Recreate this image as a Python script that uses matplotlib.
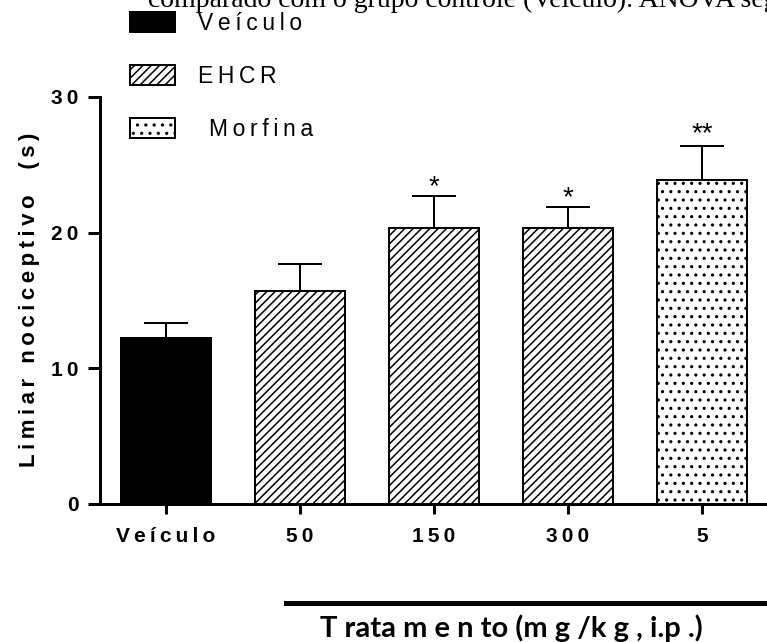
#!/usr/bin/env python3

import matplotlib
matplotlib.use('Agg')
import matplotlib.pyplot as plt
from matplotlib.lines import Line2D

plt.rcParams['font.family'] = ['Liberation Sans', 'DejaVu Sans']
plt.rcParams['hatch.linewidth'] = 1.1

groups = ['Veículo', '50', '150', '300', '5']
means = [12.2, 15.7, 20.3, 20.3, 23.9]
errors = [1.1, 2.0, 2.4, 1.6, 2.5]
stars = ['', '', '*', '*', '**']
hatches = ['', '////', '////', '////', '..']
faces = ['black', 'white', 'white', 'white', 'white']
legend_labels = ['Veículo', 'EHCR', ' Morfina']
legend_bars = [0, 1, 4]
y_ticks = [0, 10, 20, 30]

caption = 'comparado com o grupo controle (Veículo). ANOVA seg'
x_title = 'T rata m e n to (m g /k g , i.p .)'
y_title = 'Limiar nociceptivo  (s)'

PX = 72 / 100  # points per pixel at dpi 100
THIN = '\u2009'


def spaced(text, sep=THIN):
    return sep.join(text)


fig = plt.figure(figsize=(7.67, 6.42), dpi=100)
ax = fig.add_axes([100 / 767, (642 - 503.5) / 642, 667 / 767, (503.5 - 97) / 642])

x = list(range(len(groups)))
bars = ax.bar(x, means, width=0.67, color=faces, edgecolor='black',
              linewidth=2 * PX, zorder=2)
for b, h in zip(bars, hatches):
    if h:
        b.set_hatch(h)

ax.errorbar(x, means, yerr=[[0] * len(errors), errors], fmt='none',
            ecolor='black', elinewidth=2 * PX, capsize=22 * PX,
            capthick=2 * PX, zorder=1)

for xi, m, e, s in zip(x, means, errors, stars):
    if s:
        ax.annotate(s, (xi, m + e), xytext=(0, 3 if len(s) > 1 else 1),
                    textcoords='offset points',
                    ha='center', va='baseline', fontsize=20)

ax.set_xlim(-66 / 134, 601 / 134)
ax.set_ylim(0, 30)
ax.set_yticks(y_ticks)
ax.set_yticklabels([spaced(str(t)) for t in y_ticks],
                   fontweight='bold', fontsize=15)
ax.set_xticks(x)
ax.set_xticklabels([spaced(g) for g in groups], fontweight='bold', fontsize=15)

for side in ['top', 'right']:
    ax.spines[side].set_visible(False)
for side in ['left', 'bottom']:
    ax.spines[side].set_linewidth(3 * PX)
ax.tick_params(axis='y', length=12 * PX, width=3 * PX, pad=7)
ax.tick_params(axis='x', length=10 * PX, width=3 * PX, pad=10)

ax.set_ylabel(spaced(y_title), fontweight='bold', fontsize=16, labelpad=8)

fig.legend([bars[i] for i in legend_bars],
           [spaced(l) for l in legend_labels],
           loc='upper left', bbox_to_anchor=(130 / 767, 1 - 12 / 642),
           frameon=False, borderpad=0, borderaxespad=0, fontsize=16.5,
           handlelength=1.95, handleheight=0.95, handletextpad=1.0,
           labelspacing=1.3)

fig.add_artist(Line2D([286 / 767, 1.0], [1 - 603 / 642] * 2,
                      transform=fig.transFigure, color='black', lw=5 * PX))
fig.text(511 / 767, 1 - 637 / 642, x_title, ha='center', va='baseline',
         fontweight='bold', fontsize=21, family=['Lato', 'DejaVu Sans'])
fig.text(148 / 767, 1 - 7 / 642, caption, ha='left', va='baseline',
         fontsize=20, family=['Liberation Serif', 'DejaVu Serif'])

fig.savefig('out.png', dpi=100)
